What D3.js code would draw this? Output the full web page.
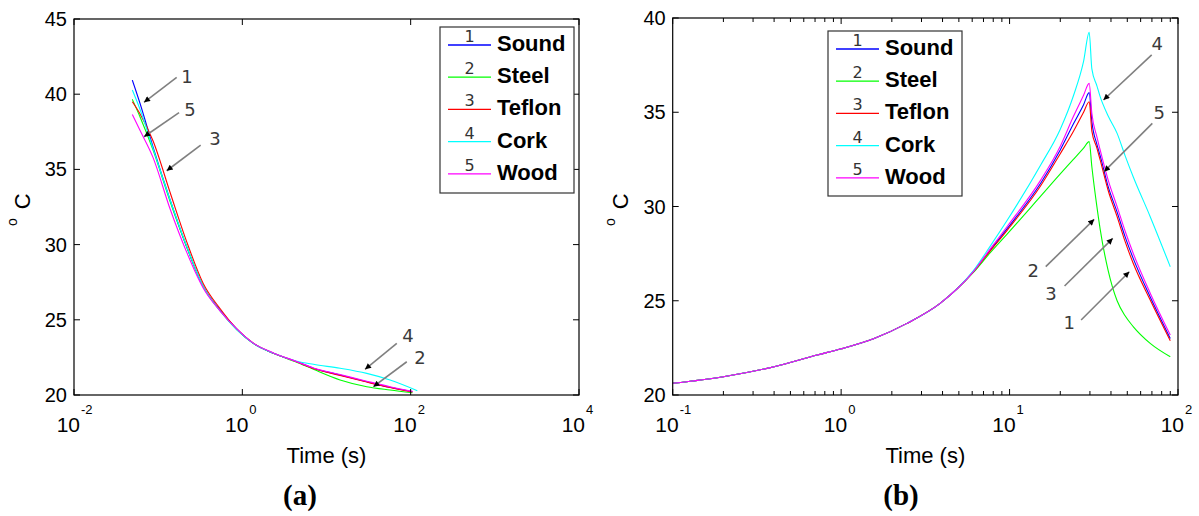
<!DOCTYPE html>
<html>
<head>
<meta charset="utf-8">
<script src="https://cdn.jsdelivr.net/npm/d3@7"></script>
<style>
  html, body { margin: 0; padding: 0; background: #fff; }
  svg { display: block; }
</style>
</head>
<body>
<div id="chart"></div>
<script>
// ---------------- DATA ----------------
const seriesNames = ["Sound", "Steel", "Teflon", "Cork", "Wood"];
const seriesNumbers = ["1", "2", "3", "4", "5"];
const seriesColors = ["#0000ff", "#00ff00", "#ff0000", "#00ffff", "#ff00ff"];

// Panel (a)
const leftTime = [0.0493, 0.0608, 0.0868, 0.138, 0.218, 0.344, 0.543, 0.857, 1.35, 2.34, 4.43, 6.98, 14.5, 30.1, 56.9];
const leftFinalTime = [105, 105, 105, 120, 105];
const leftSound  = [40.94, 39.4, 36.5, 33.0, 29.86, 27.2, 25.65, 24.4, 23.43, 22.77, 22.21, 21.78, 21.33, 20.88, 20.51, 20.22];
const leftSteel  = [39.66, 38.5, 36.3, 32.9, 29.86, 27.2, 25.6, 24.35, 23.43, 22.77, 22.18, 21.71, 21.0, 20.55, 20.33, 20.15];
const leftTeflon = [39.5, 38.7, 36.9, 33.5, 30.2, 27.4, 25.75, 24.4, 23.45, 22.77, 22.21, 21.76, 21.3, 20.86, 20.5, 20.2];
const leftCork   = [40.28, 39.0, 36.4, 33.0, 29.9, 27.2, 25.6, 24.35, 23.43, 22.77, 22.25, 22.04, 21.78, 21.44, 21.0, 20.29];
const leftWood   = [38.65, 37.6, 35.8, 32.4, 29.5, 27.1, 25.6, 24.4, 23.45, 22.8, 22.22, 21.8, 21.36, 20.92, 20.55, 20.24];
const leftXTickExp = [-2, 0, 2, 4];
const leftYTicks = [20, 25, 30, 35, 40, 45];
// annotations: [label, labelT, labelY, tailT, tailY, tipT, tipY]
const leftAnnotations = [
  ["1", 0.220, 41.21, 0.166, 41.12, 0.0679, 39.46],
  ["5", 0.239, 39.02, 0.177, 38.77, 0.0679, 37.17],
  ["3", 0.474, 37.09, 0.320, 36.62, 0.1263, 34.91],
  ["4", 93.1, 23.99, 68.4, 23.44, 28.7, 21.71],
  ["2", 129.4, 22.53, 89.9, 22.21, 36.1, 20.55]
];

// Panel (b)
const rightTime = [0.1, 0.2, 0.4, 0.72, 1.0, 1.57, 2.46, 3.87, 6.1, 7.68, 9.7, 15.3, 20.0, 24.0, 27.5, 29.7, 30.8, 33.0, 34.5, 38.5, 43.5, 48.5, 54.2, 68.4, 90];
const rightSound  = [20.62, 20.97, 21.5, 22.12, 22.45, 23.0, 23.8, 24.86, 26.54, 27.69, 28.84, 31.23, 33.0, 34.4, 35.4, 36.04, 34.5, 33.3, 32.7, 31.05, 29.7, 28.4, 27.25, 25.2, 23.0];
const rightSteel  = [20.62, 20.97, 21.5, 22.12, 22.45, 23.0, 23.8, 24.86, 26.5, 27.55, 28.55, 30.55, 31.73, 32.51, 33.1, 33.44, 32.11, 29.99, 28.8, 26.6, 25.0, 24.2, 23.63, 22.74, 22.03];
const rightTeflon = [20.62, 20.97, 21.5, 22.12, 22.45, 23.0, 23.8, 24.86, 26.54, 27.65, 28.75, 31.1, 32.8, 34.0, 35.0, 35.56, 34.0, 33.1, 32.47, 30.85, 29.46, 28.15, 26.99, 25.04, 22.88];
const rightCork   = [20.62, 20.97, 21.5, 22.12, 22.45, 23.0, 23.8, 24.86, 26.6, 27.9, 29.28, 32.2, 34.1, 35.9, 37.7, 39.24, 37.3, 36.4, 35.83, 34.8, 33.88, 32.7, 31.58, 29.46, 26.8];
const rightWood   = [20.62, 20.97, 21.5, 22.12, 22.45, 23.0, 23.8, 24.86, 26.54, 27.75, 28.95, 31.4, 33.2, 34.8, 35.9, 36.53, 34.94, 33.7, 33.0, 31.4, 29.99, 28.7, 27.52, 25.4, 23.18];
const rightXTickExp = [-1, 0, 1, 2];
const rightYTicks = [20, 25, 30, 35, 40];
const rightAnnotations = [
  ["4", 75.2, 38.67, 69.8, 38.04, 36.1, 35.65],
  ["5", 77.3, 35.01, 70.4, 34.41, 36.4, 31.85],
  ["2", 13.8, 26.63, 16.4, 26.81, 31.8, 29.32],
  ["3", 17.6, 25.41, 21.2, 25.78, 41.0, 28.31],
  ["1", 22.6, 23.87, 26.6, 23.98, 51.4, 26.54]
];

const xLabel = "Time (s)";
const panelTitles = ["(a)", "(b)"];

// ---------------- BUILD ----------------
const leftValues = [leftSound, leftSteel, leftTeflon, leftCork, leftWood];
const rightValues = [rightSound, rightSteel, rightTeflon, rightCork, rightWood];

const leftSeries = leftValues.map((vals, i) => ({
  color: seriesColors[i],
  pts: vals.map((v, j) => [j < leftTime.length ? leftTime[j] : leftFinalTime[i], v])
}));
const rightSeries = rightValues.map((vals, i) => ({
  color: seriesColors[i],
  pts: vals.map((v, j) => [rightTime[j], v])
}));

const svg = d3.select("#chart").append("svg")
  .attr("width", 1199).attr("height", 516)
  .attr("viewBox", "0 0 1199 516");

const defs = svg.append("defs");
defs.append("marker")
  .attr("id", "arrowhead")
  .attr("viewBox", "0 0 10 10")
  .attr("refX", 10).attr("refY", 5)
  .attr("markerWidth", 8).attr("markerHeight", 6)
  .attr("markerUnits", "userSpaceOnUse")
  .attr("orient", "auto")
  .append("path").attr("d", "M0,0 L10,5 L0,10 Z").attr("fill", "#000");

const SANS = "'Liberation Sans', Arial, sans-serif";

const panels = [
  {
    id: "a", xr: [74, 579], yr: [395, 19], xd: [0.01, 10000], yd: [20, 45],
    series: leftSeries, xExp: leftXTickExp, yTicks: leftYTicks, minor: false,
    ann: leftAnnotations,
    legend: { x: 440, y: 27, w: 134, h: 166 },
    ylab: { x: 30, y: 226 }, title: { x: 300, y: 505 }
  },
  {
    id: "b", xr: [672.7, 1178], yr: [395, 18], xd: [0.1, 100], yd: [20, 40],
    series: rightSeries, xExp: rightXTickExp, yTicks: rightYTicks, minor: true,
    ann: rightAnnotations,
    legend: { x: 828, y: 31, w: 134, h: 165 },
    ylab: { x: 628, y: 226 }, title: { x: 901, y: 505 }
  }
];

panels.forEach((p, pi) => {
  const x = d3.scaleLog().domain(p.xd).range(p.xr);
  const y = d3.scaleLinear().domain(p.yd).range(p.yr);
  const g = svg.append("g");
  const [x0, x1] = p.xr;
  const [yb, yt] = p.yr;

  defs.append("clipPath").attr("id", "clip-" + p.id)
    .append("rect").attr("x", x0).attr("y", yt).attr("width", x1 - x0).attr("height", yb - yt);

  // Lines
  const line = d3.line().x(d => x(d[0])).y(d => y(d[1])).curve(d3.curveMonotoneX);
  const lg = g.append("g").attr("clip-path", `url(#clip-${p.id})`);
  p.series.forEach(s => {
    lg.append("path").attr("d", line(s.pts))
      .attr("fill", "none").attr("stroke", s.color).attr("stroke-width", 1.1);
  });

  // Box
  g.append("rect").attr("x", x0).attr("y", yt).attr("width", x1 - x0).attr("height", yb - yt)
    .attr("fill", "none").attr("stroke", "#000").attr("stroke-width", 1.2);

  // X ticks
  const majors = p.xExp.map(e => Math.pow(10, e));
  const tickG = g.append("g").attr("stroke", "#000").attr("stroke-width", 1);
  majors.forEach(v => {
    const xx = x(v);
    tickG.append("line").attr("x1", xx).attr("x2", xx).attr("y1", yb).attr("y2", yb - 6);
    tickG.append("line").attr("x1", xx).attr("x2", xx).attr("y1", yt).attr("y2", yt + 6);
  });
  if (p.minor) {
    for (let k = 0; k < majors.length - 1; k++) {
      for (let m = 2; m <= 9; m++) {
        const xx = x(majors[k] * m);
        tickG.append("line").attr("x1", xx).attr("x2", xx).attr("y1", yb).attr("y2", yb - 4);
        tickG.append("line").attr("x1", xx).attr("x2", xx).attr("y1", yt).attr("y2", yt + 4);
      }
    }
  }
  // Y ticks
  p.yTicks.forEach(v => {
    const yy = y(v);
    tickG.append("line").attr("x1", x0).attr("x2", x0 + 6).attr("y1", yy).attr("y2", yy);
    tickG.append("line").attr("x1", x1).attr("x2", x1 - 6).attr("y1", yy).attr("y2", yy);
  });

  // X tick labels: 10^e
  p.xExp.forEach(e => {
    const xx = x(Math.pow(10, e));
    g.append("text").attr("x", xx + 6).attr("y", 432)
      .attr("text-anchor", "end").attr("font-family", SANS).attr("font-size", 21)
      .text("10");
    g.append("text").attr("x", xx + 7).attr("y", 414)
      .attr("text-anchor", "start").attr("font-family", SANS).attr("font-size", 13)
      .text(String(e));
  });
  // Y tick labels
  p.yTicks.forEach(v => {
    g.append("text").attr("x", x0 - 7).attr("y", y(v) + 7)
      .attr("text-anchor", "end").attr("font-family", SANS).attr("font-size", 20)
      .text(v);
  });

  // Axis labels
  g.append("text").attr("x", (x0 + x1) / 2).attr("y", 463)
    .attr("text-anchor", "middle").attr("font-family", SANS).attr("font-size", 22)
    .text(xLabel);
  const yl = g.append("text")
    .attr("transform", `translate(${p.ylab.x},${p.ylab.y}) rotate(-90)`)
    .attr("font-family", SANS);
  yl.append("tspan").attr("font-size", 14).attr("dy", -13).text("o");
  yl.append("tspan").attr("font-size", 22).attr("dy", 13).attr("dx", 9).text("C");

  // Panel title
  g.append("text").attr("x", p.title.x).attr("y", p.title.y)
    .attr("text-anchor", "middle").attr("font-family", "'Liberation Serif', 'Times New Roman', serif")
    .attr("font-weight", "bold").attr("font-size", 29)
    .text(panelTitles[pi]);

  // Annotations
  p.ann.forEach(a => {
    const [lab, lt, lT, tt, tT, pt, pT] = a;
    g.append("line")
      .attr("x1", x(tt)).attr("y1", y(tT)).attr("x2", x(pt)).attr("y2", y(pT))
      .attr("stroke", "#808080").attr("stroke-width", 1.6)
      .attr("marker-end", "url(#arrowhead)");
    g.append("text").attr("x", x(lt)).attr("y", y(lT) + 7)
      .attr("text-anchor", "middle").attr("font-family", "'DejaVu Sans', sans-serif")
      .attr("font-size", 18).attr("fill", "#3a3a3a")
      .text(lab);
  });

  // Legend
  const L = p.legend;
  const leg = g.append("g");
  leg.append("rect").attr("x", L.x).attr("y", L.y).attr("width", L.w).attr("height", L.h)
    .attr("fill", "#fff").attr("stroke", "#333").attr("stroke-width", 1.2);
  seriesNames.forEach((name, i) => {
    const ry = L.y + 18 + i * 32.2;
    leg.append("line").attr("x1", L.x + 8).attr("x2", L.x + 51).attr("y1", ry).attr("y2", ry)
      .attr("stroke", seriesColors[i]).attr("stroke-width", 1.3);
    leg.append("text").attr("x", L.x + 29.5).attr("y", ry - 3)
      .attr("text-anchor", "middle").attr("font-family", "'DejaVu Sans', sans-serif")
      .attr("font-size", 16).attr("fill", "#333").text(seriesNumbers[i]);
    leg.append("text").attr("x", L.x + 57).attr("y", ry + 6)
      .attr("font-family", SANS).attr("font-weight", "bold").attr("font-size", 22)
      .attr("fill", "#000").text(name);
  });
});
</script>
</body>
</html>
